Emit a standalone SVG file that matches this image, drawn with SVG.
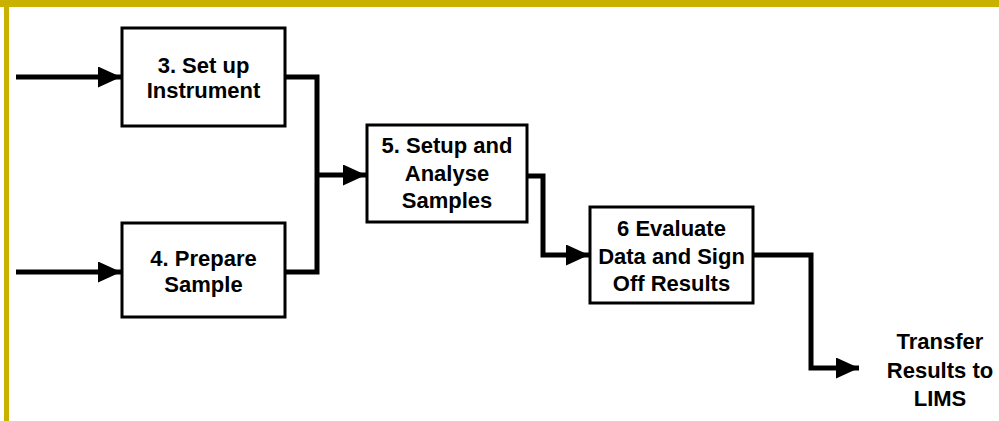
<svg xmlns="http://www.w3.org/2000/svg" width="999" height="421" viewBox="0 0 999 421">
<style>
.box{fill:#fff;stroke:#000;stroke-width:3}
.t{font-family:"Liberation Sans",Arial,sans-serif;font-weight:bold;font-size:22px;fill:#000;text-anchor:middle}
.c{fill:none;stroke:#000;stroke-width:5;stroke-linejoin:miter}
</style>
<defs>
<marker id="ah" markerUnits="userSpaceOnUse" markerWidth="23" markerHeight="21" refX="23" refY="10.5" orient="auto" viewBox="0 0 23 21">
<path d="M0,0 L23,10.5 L0,21 Z" fill="#000"/>
</marker>
</defs>
<rect x="0" y="0" width="999" height="421" fill="#fff"/>
<rect x="0" y="0" width="999" height="7" fill="#C9B100"/>
<rect x="4" y="0" width="5" height="421" fill="#C9B100"/>
<g id="connectors">
<path class="c" d="M16,77 H121" marker-end="url(#ah)"/>
<path class="c" d="M16,272 H121" marker-end="url(#ah)"/>
<path class="c" d="M285,77 H317 V272 H285"/>
<path class="c" d="M317,175 H366" marker-end="url(#ah)"/>
<path class="c" d="M527,176 H543 V255 H589" marker-end="url(#ah)"/>
<path class="c" d="M753,255 H811 V368 H859" marker-end="url(#ah)"/>
</g>
<g id="n3">
<rect class="box" x="122" y="28" width="163" height="98"/>
<text class="t" x="203.5" y="73">3. Set up</text>
<text class="t" x="203.5" y="98">Instrument</text>
</g>
<g id="n4">
<rect class="box" x="122" y="223" width="163" height="94"/>
<text class="t" x="203.5" y="266">4. Prepare</text>
<text class="t" x="203.5" y="292">Sample</text>
</g>
<g id="n5">
<rect class="box" x="367" y="125" width="160" height="97"/>
<text class="t" x="447" y="153">5. Setup and</text>
<text class="t" x="447" y="181">Analyse</text>
<text class="t" x="447" y="208">Samples</text>
</g>
<g id="n6">
<rect class="box" x="590" y="207" width="163" height="96"/>
<text class="t" x="671.5" y="236">6 Evaluate</text>
<text class="t" x="671.5" y="264">Data and Sign</text>
<text class="t" x="671.5" y="291">Off Results</text>
</g>
<g id="lims">
<text class="t" x="940" y="349">Transfer</text>
<text class="t" x="940" y="378">Results to</text>
<text class="t" x="940" y="406">LIMS</text>
</g>
</svg>
